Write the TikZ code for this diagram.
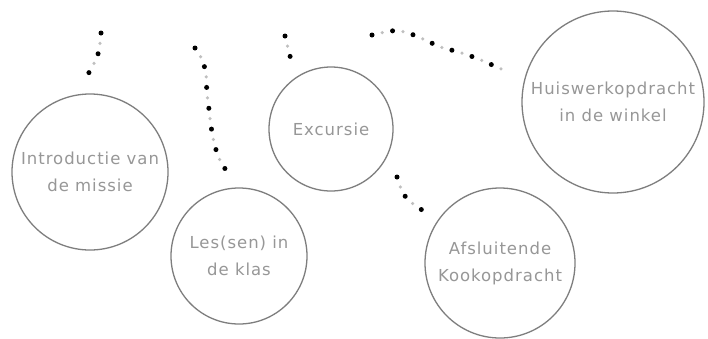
\documentclass[tikz,border=0pt]{standalone}
\usepackage{fontspec}
\setmainfont[LetterSpace=6]{DejaVu Sans}
\definecolor{ringgray}{HTML}{7E7E7E}
\definecolor{txtgray}{HTML}{979797}
\begin{document}
\begin{tikzpicture}[x=1pt,y=-1pt,
  topic/.style={circle,draw=ringgray,line width=1.3pt,minimum size=#1,inner sep=0pt,
    align=center,text=txtgray,font=\fontsize{16.5}{27}\selectfont},
  dotline/.style={line width=5pt,line cap=round,dash pattern=on 0pt off 21pt,draw=black},
  dotfaint/.style={line width=3.5pt,line cap=round,dash pattern=on 0pt off 21pt,dash phase=10.5pt,draw=black!25}]
\useasboundingbox (0,0) rectangle (708,338);
\fill[white] (0,0) rectangle (708,338);
\node[topic=156pt] (intro) at (90,172) {Introductie van\\de missie};
\node[topic=136pt] (les) at (239,256) {Les(sen) in\\de klas};
\node[topic=124pt] (exc) at (331,129) {Excursie};
\node[topic=182pt] (huis) at (613,102) {Huiswerkopdracht\\in de winkel};
\node[topic=150pt] (afs) at (500,263) {Afsluitende\\Kookopdracht};
% free ends of the dotted trails
\coordinate (a1) at (101,33); \coordinate (a2) at (87,76);
\coordinate (b1) at (195,48); \coordinate (b2) at (208,100); \coordinate (b3) at (226,170);
\coordinate (c1) at (285,36); \coordinate (c2) at (291,60);
\coordinate (d1) at (372,35); \coordinate (d2) at (440,47); \coordinate (d3) at (508,72);
\coordinate (e1) at (397,177); \coordinate (e2) at (425,212);
\foreach \s in {dotfaint,dotline}{
  \draw[\s] (a1) .. controls (99,55) .. (a2);
  \draw[\s] (b1) .. controls (212,70) and (204,90) .. (b2) .. controls (211,130) and (214,155) .. (b3);
  \draw[\s] (c1) -- (c2);
  \draw[\s] (d1) .. controls (400,28) .. (d2) .. controls (470,55) .. (d3);
  \draw[\s] (e1) .. controls (404,198) .. (e2);
}
\end{tikzpicture}
\end{document}
